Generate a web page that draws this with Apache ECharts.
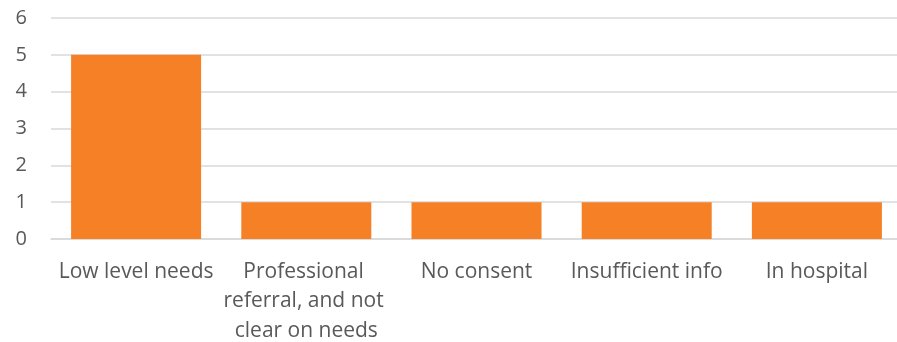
<!DOCTYPE html>
<html><head><meta charset="utf-8">
<script src="https://cdn.jsdelivr.net/npm/echarts@6/dist/echarts.min.js"></script>
<style>html,body{margin:0;padding:0;background:#fff}#c{width:897px;height:342px}</style>
</head><body><div id="c"></div>
<script>
const categories = ["Low level needs", "Professional referral, and not clear on needs", "No consent", "Insufficient info", "In hospital"];
const values = [5, 1, 1, 1, 1];
const yTicks = [0, 1, 2, 3, 4, 5, 6];

const FONT = "'Source Sans Pro', 'Open Sans', sans-serif";
const chart = echarts.init(document.getElementById('c'), null, {renderer: 'canvas'});
chart.setOption({
  animation: false,
  grid: {left: 51, width: 851, top: 18, height: 221, containLabel: false, outerBoundsMode: 'none'},
  xAxis: {
    type: 'category', data: categories,
    axisTick: {show: false},
    axisLine: {lineStyle: {color: '#d9d9d9', width: 1.5}},
    axisLabel: {color: '#595959', fontFamily: FONT, fontSize: 21, margin: 18, interval: 0,
      width: 170, overflow: 'break', lineHeight: 29.5}
  },
  yAxis: {
    type: 'value', min: yTicks[0], max: yTicks[yTicks.length-1], interval: 1,
    axisLine: {show: false}, axisTick: {show: false},
    splitLine: {lineStyle: {color: '#d9d9d9', width: 1.5}},
    axisLabel: {color: '#595959', fontFamily: FONT, fontSize: 20, margin: 24}
  },
  series: [{type: 'bar', data: values, barWidth: 130, itemStyle: {color: '#F58025'}}]
});
</script></body></html>
